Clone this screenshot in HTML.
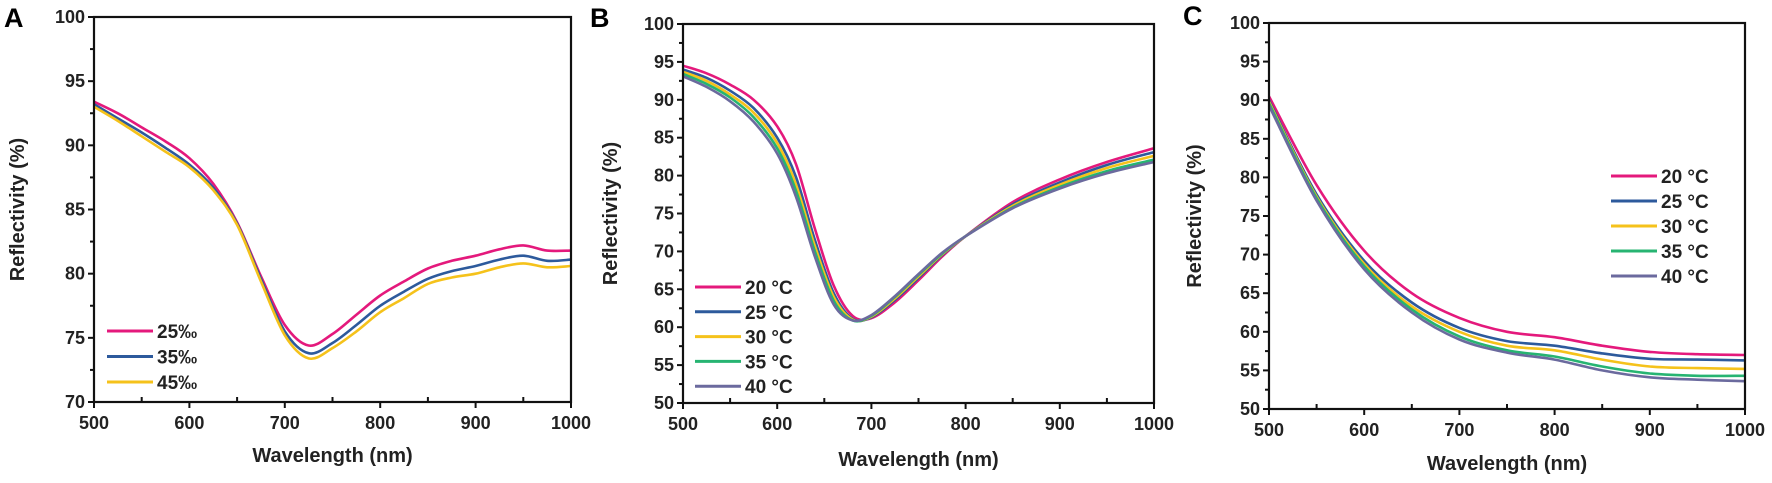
<!DOCTYPE html>
<html><head><meta charset="utf-8">
<style>
html,body{margin:0;padding:0;background:#fff;}
svg{display:block;font-family:"Liberation Sans",Arial,sans-serif;font-weight:bold;}
</style></head>
<body>
<svg id="fig" width="1772" height="483" viewBox="0 0 1772 483" xmlns="http://www.w3.org/2000/svg"></svg>
<script>
// ---- Panel A data ----
const aWavelengths = [500,525,550,575,600,625,650,675,700,725,750,775,800,825,850,875,900,925,950,975,1000];
const a25 = [93.4,92.5,91.4,90.3,89.0,87.0,84.0,79.8,76.0,74.4,75.3,76.8,78.3,79.4,80.4,81.0,81.4,81.9,82.2,81.8,81.8];
const a35 = [93.2,92.1,91.0,89.8,88.5,86.7,83.9,79.6,75.5,73.8,74.6,76.0,77.5,78.6,79.6,80.2,80.6,81.1,81.4,81.0,81.1];
const a45 = [93.0,91.9,90.7,89.5,88.3,86.5,83.8,79.4,75.2,73.4,74.2,75.5,77.0,78.1,79.2,79.7,80.0,80.5,80.8,80.5,80.6];
const aLabels = ["25‰","35‰","45‰"];
const aYTicks = [70,75,80,85,90,95,100];
// ---- Panel B data ----
const bWavelengths = [500,525,550,575,600,620,640,660,680,700,725,750,775,800,850,900,950,1000];
const b20 = [94.5,93.5,92.0,90.0,86.5,81.5,73.0,65.5,61.5,61.2,63.3,66.2,69.3,72.0,76.5,79.5,81.8,83.6];
const b25 = [94.0,92.9,91.2,88.9,85.0,79.8,71.5,64.5,61.1,61.3,63.6,66.5,69.5,72.0,76.2,79.1,81.4,83.1];
const b30 = [93.7,92.5,90.7,88.3,84.3,78.8,70.7,64.0,61.0,61.4,63.8,66.7,69.6,72.0,76.0,78.8,81.0,82.6];
const b35 = [93.4,92.1,90.3,87.7,83.6,78.0,70.0,63.5,60.9,61.5,64.0,66.9,69.7,72.0,75.8,78.5,80.6,82.1];
const b40 = [93.1,91.7,89.8,87.1,82.9,77.2,69.3,63.0,60.9,61.6,64.1,67.0,69.8,72.0,75.7,78.3,80.3,81.8];
const bYTicks = [50,55,60,65,70,75,80,85,90,95,100];
// ---- Panel C data ----
const cWavelengths = [500,550,600,650,700,750,800,850,900,950,1000];
const c20 = [90.5,79.0,70.5,65.0,61.8,60.0,59.3,58.2,57.4,57.1,57.0];
const c25 = [90.0,77.8,69.2,63.8,60.5,58.8,58.2,57.2,56.5,56.4,56.3];
const c30 = [89.8,77.5,68.8,63.3,60.0,58.2,57.6,56.4,55.5,55.3,55.2];
const c35 = [89.6,77.3,68.5,62.9,59.4,57.6,56.8,55.5,54.6,54.3,54.3];
const c40 = [89.3,77.0,68.1,62.5,59.0,57.3,56.4,55.0,54.1,53.8,53.6];
const tempLabels = ["20 °C","25 °C","30 °C","35 °C","40 °C"];
const cYTicks = [50,55,60,65,70,75,80,85,90,95,100];
const xTicks = [500,600,700,800,900,1000];

const NS="http://www.w3.org/2000/svg";
const svg=document.getElementById('fig');
function el(tag,attrs,parent){const e=document.createElementNS(NS,tag);for(const k in attrs)e.setAttribute(k,attrs[k]);(parent||svg).appendChild(e);return e;}
const COLORS={pink:"#e4197c",blue:"#2d5a9c",yellow:"#f5c21b",green:"#27b472",purple:"#6b6a9e"};

function smoothPath(pts){
  let d="M"+pts[0][0].toFixed(1)+","+pts[0][1].toFixed(1);
  for(let i=0;i<pts.length-1;i++){
    const p0=pts[i-1]||pts[i],p1=pts[i],p2=pts[i+1],p3=pts[i+2]||p2;
    const c1=[p1[0]+(p2[0]-p0[0])/6,p1[1]+(p2[1]-p0[1])/6];
    const c2=[p2[0]-(p3[0]-p1[0])/6,p2[1]-(p3[1]-p1[1])/6];
    d+=" C"+c1[0].toFixed(1)+","+c1[1].toFixed(1)+" "+c2[0].toFixed(1)+","+c2[1].toFixed(1)+" "+p2[0].toFixed(1)+","+p2[1].toFixed(1);
  }
  return d;
}

function panel(cfg){
  const g=el('g',{});
  
  
  const {L,R,T,B,ymin,ymax}=cfg;
  const xs=v=>L+(v-500)/500*(R-L);
  const ys=v=>B-(v-ymin)/(ymax-ymin)*(B-T);
  cfg.series.forEach((s,i)=>{
    const pts=cfg.xv.map((x,j)=>[xs(x),ys(s.vals[j])]);
    const p=el('path',{d:smoothPath(pts),fill:"none",stroke:s.color,"stroke-width":2.6,"stroke-linejoin":"round"},g);
    
    
  });
  const fr=el('rect',{x:L,y:T,width:R-L,height:B-T,fill:"none",stroke:"#111","stroke-width":2.2},g);
  
  
  xTicks.forEach(v=>{
    el('line',{x1:xs(v),x2:xs(v),y1:B,y2:B+6,stroke:"#111","stroke-width":2},g);
    const t=el('text',{x:xs(v),y:B+27,"text-anchor":"middle","font-size":18,fill:"#222"},g);
    t.textContent=v;
    
    
  });
  for(let v=550;v<1000;v+=100){el('line',{x1:xs(v),x2:xs(v),y1:B,y2:B-5,stroke:"#111","stroke-width":2},g);}
  cfg.yt.forEach((v,i)=>{
    el('line',{x1:L-6,x2:L,y1:ys(v),y2:ys(v),stroke:"#111","stroke-width":2},g);
    const t=el('text',{x:L-9,y:ys(v)+6,"text-anchor":"end","font-size":18,fill:"#222"},g);
    t.textContent=v;
    
    
    if(i<cfg.yt.length-1){const m=(v+cfg.yt[i+1])/2;el('line',{x1:L-4,x2:L,y1:ys(m),y2:ys(m),stroke:"#111","stroke-width":2},g);}
  });
  const xt=el('text',{x:(L+R)/2,y:cfg.xtY,"text-anchor":"middle","font-size":20,fill:"#222"},g);
  xt.textContent="Wavelength (nm)";
  
  
  const yy=(T+B)/2;
  const yt=el('text',{x:cfg.ytX,y:yy,"text-anchor":"middle","font-size":20,fill:"#222",transform:`rotate(-90 ${cfg.ytX} ${yy})`},g);
  yt.textContent="Reflectivity (%)";
  
  
  const lt=el('text',{x:cfg.letterX,y:cfg.letterY,"font-size":27,fill:"#000"},g);
  lt.textContent=cfg.id.toUpperCase();
  
  
  cfg.series.forEach((s,i)=>{
    const y=cfg.lg.y0+i*cfg.lg.dy;
    const item=el('g',{},g);
    
    
    el('line',{x1:cfg.lg.x0,x2:cfg.lg.x0+46,y1:y,y2:y,stroke:s.color,"stroke-width":3},item);
    const t=el('text',{x:cfg.lg.x0+50,y:y+7,"font-size":19,fill:"#222"},item);
    t.textContent=s.label;
  });
}

panel({id:"a",L:94,R:571,T:17,B:402,ymin:70,ymax:100,xv:aWavelengths,yt:aYTicks,xtY:462,ytX:24,letterX:4,letterY:27,
  lg:{x0:107,y0:331,dy:25.5},
  series:[{key:"25",vals:a25,color:COLORS.pink,label:aLabels[0]},{key:"35",vals:a35,color:COLORS.blue,label:aLabels[1]},{key:"45",vals:a45,color:COLORS.yellow,label:aLabels[2]}]});
panel({id:"b",L:683,R:1154,T:24,B:403,ymin:50,ymax:100,xv:bWavelengths,yt:bYTicks,xtY:466,ytX:617,letterX:590,letterY:27,
  lg:{x0:695,y0:287,dy:24.8},
  series:[{key:"20",vals:b20,color:COLORS.pink,label:tempLabels[0]},{key:"25",vals:b25,color:COLORS.blue,label:tempLabels[1]},{key:"30",vals:b30,color:COLORS.yellow,label:tempLabels[2]},{key:"35",vals:b35,color:COLORS.green,label:tempLabels[3]},{key:"40",vals:b40,color:COLORS.purple,label:tempLabels[4]}]});
panel({id:"c",L:1269,R:1745,T:23,B:409,ymin:50,ymax:100,xv:cWavelengths,yt:cYTicks,xtY:470,ytX:1201,letterX:1183,letterY:25,
  lg:{x0:1611,y0:176,dy:25},
  series:[{key:"20",vals:c20,color:COLORS.pink,label:tempLabels[0]},{key:"25",vals:c25,color:COLORS.blue,label:tempLabels[1]},{key:"30",vals:c30,color:COLORS.yellow,label:tempLabels[2]},{key:"35",vals:c35,color:COLORS.green,label:tempLabels[3]},{key:"40",vals:c40,color:COLORS.purple,label:tempLabels[4]}]});
</script>
</body></html>
